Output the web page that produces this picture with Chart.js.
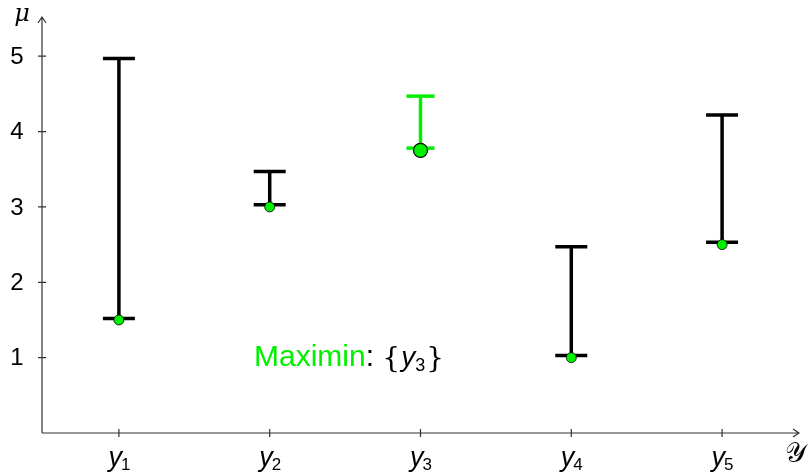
<!DOCTYPE html>
<html>
<head>
<meta charset="utf-8">
<script src="https://cdn.jsdelivr.net/npm/chart.js@4.4.1/dist/chart.umd.min.js"></script>
<style>
  html, body { margin: 0; padding: 0; background: #fff; }
  #wrap { width: 811px; height: 473px; }
</style>
</head>
<body>
<div id="wrap"><canvas id="chart"></canvas></div>
<script>
const categories = ['1', '2', '3', '4', '5']; // subscripts of y
const lowValues = [1.52, 3.03, 3.78, 1.03, 2.53];
const highValues = [4.97, 3.47, 4.47, 2.47, 4.22];
const pointValues = [1.5, 3.0, 3.75, 1.0, 2.5];
const yTicks = [1, 2, 3, 4, 5];
const chosen = 2; // index of y3, the maximin choice

const GREEN = '#00f000';

// interval segments, broken by null gaps
function intervalData(keep) {
    const out = [];
    categories.forEach(function (c, i) {
        if (!keep(i)) return;
        out.push({ x: i + 1, y: lowValues[i] });
        out.push({ x: i + 1, y: highValues[i] });
        out.push({ x: i + 1.5, y: null });
    });
    return out;
}

const axesPlugin = {
    id: 'axes',
    afterDraw(chart) {
        const ctx = chart.ctx;
        const xs = chart.scales.x, ys = chart.scales.y;
        const area = chart.chartArea;
        const x0 = area.left, y0 = ys.getPixelForValue(0);
        ctx.save();
        ctx.strokeStyle = '#333';
        ctx.lineWidth = 1.2;
        ctx.beginPath();
        ctx.moveTo(x0, y0); ctx.lineTo(area.right, y0);
        ctx.moveTo(x0, y0); ctx.lineTo(x0, area.top);
        // arrow heads
        ctx.moveTo(area.right - 6, y0 - 4); ctx.lineTo(area.right, y0); ctx.lineTo(area.right - 6, y0 + 4);
        ctx.moveTo(x0 - 4, area.top + 6); ctx.lineTo(x0, area.top); ctx.lineTo(x0 + 4, area.top + 6);
        ctx.stroke();

        ctx.beginPath();
        yTicks.forEach(function (t) {
            const py = ys.getPixelForValue(t);
            ctx.moveTo(x0 - 4, py); ctx.lineTo(x0 + 4, py);
        });
        categories.forEach(function (c, i) {
            const px = xs.getPixelForValue(i + 1);
            ctx.moveTo(px, y0 - 4); ctx.lineTo(px, y0 + 4);
        });
        ctx.stroke();

        ctx.fillStyle = '#000';
        ctx.font = '24px "Liberation Sans", Arial, sans-serif';
        ctx.textAlign = 'center';
        ctx.textBaseline = 'middle';
        yTicks.forEach(function (t) {
            ctx.fillText(String(t), 17, ys.getPixelForValue(t) + 1);
        });

        ctx.textBaseline = 'alphabetic';
        categories.forEach(function (c, i) {
            const px = xs.getPixelForValue(i + 1);
            ctx.font = 'italic 27px "Liberation Sans", Arial, sans-serif';
            ctx.textAlign = 'right';
            ctx.fillText('y', px + 3, 466);
            ctx.font = '17px "Liberation Sans", Arial, sans-serif';
            ctx.textAlign = 'left';
            ctx.fillText(c, px + 2, 470);
        });

        ctx.font = 'italic 24px "DejaVu Serif", serif';
        ctx.textAlign = 'center';
        ctx.fillText('\u03bc', 22, 21);
        ctx.font = '27px "DejaVu Serif", serif';
        ctx.fillText('\ud835\udcb4', 795, 462);

        // annotation
        ctx.textAlign = 'left';
        ctx.font = '30px "Liberation Sans", Arial, sans-serif';
        let tx = 254;
        const ty = 366;
        ctx.fillStyle = GREEN;
        ctx.fillText('Maximin', tx, ty);
        tx += ctx.measureText('Maximin').width;
        ctx.fillStyle = '#000';
        ctx.fillText(': ', tx, ty);
        tx += ctx.measureText(': ').width;
        ctx.font = '28px "DejaVu Serif", serif';
        ctx.fillText('{', tx, ty + 1);
        tx += ctx.measureText('{').width + 1;
        ctx.font = 'italic 28px "Liberation Sans", Arial, sans-serif';
        ctx.fillText('y', tx, ty);
        tx += ctx.measureText('y').width;
        ctx.font = '18px "Liberation Sans", Arial, sans-serif';
        ctx.fillText(categories[chosen], tx, ty + 5);
        tx += ctx.measureText(categories[chosen]).width + 1;
        ctx.font = '28px "DejaVu Serif", serif';
        ctx.fillText('}', tx, ty + 1);
        ctx.restore();
    }
};

const ctx = document.getElementById('chart').getContext('2d');

new Chart(ctx, {
    type: 'scatter',
    data: {
        datasets: [
            {
                type: 'line',
                data: intervalData(function (i) { return i !== chosen; }),
                borderColor: '#000',
                backgroundColor: '#000',
                borderWidth: 3.5,
                pointStyle: 'line',
                pointRadius: 16,
                pointBorderWidth: 3.5,
                pointBorderColor: '#000',
                spanGaps: false,
                order: 2
            },
            {
                type: 'line',
                data: intervalData(function (i) { return i === chosen; }),
                borderColor: GREEN,
                backgroundColor: GREEN,
                borderWidth: 3.5,
                pointStyle: 'line',
                pointRadius: 14,
                pointBorderWidth: 3.5,
                pointBorderColor: GREEN,
                spanGaps: false,
                order: 2
            },
            {
                data: pointValues.map(function (v, i) { return { x: i + 1, y: v }; }),
                backgroundColor: GREEN,
                borderColor: '#000',
                borderWidth: pointValues.map(function (v, i) { return i === chosen ? 1.2 : 0.8; }),
                pointRadius: pointValues.map(function (v, i) { return i === chosen ? 7 : 5; }),
                order: 1
            }
        ]
    },
    options: {
        responsive: true,
        maintainAspectRatio: false,
        animation: false,
        layout: { autoPadding: false, padding: { left: 42, right: 12, top: 17, bottom: 40 } },
        plugins: {
            legend: { display: false },
            tooltip: { enabled: false }
        },
        scales: {
            x: { type: 'linear', min: 0.49, max: 5.51, display: false },
            y: { type: 'linear', min: 0, max: 5.52, display: false }
        }
    },
    plugins: [axesPlugin]
});
</script>
</body>
</html>
